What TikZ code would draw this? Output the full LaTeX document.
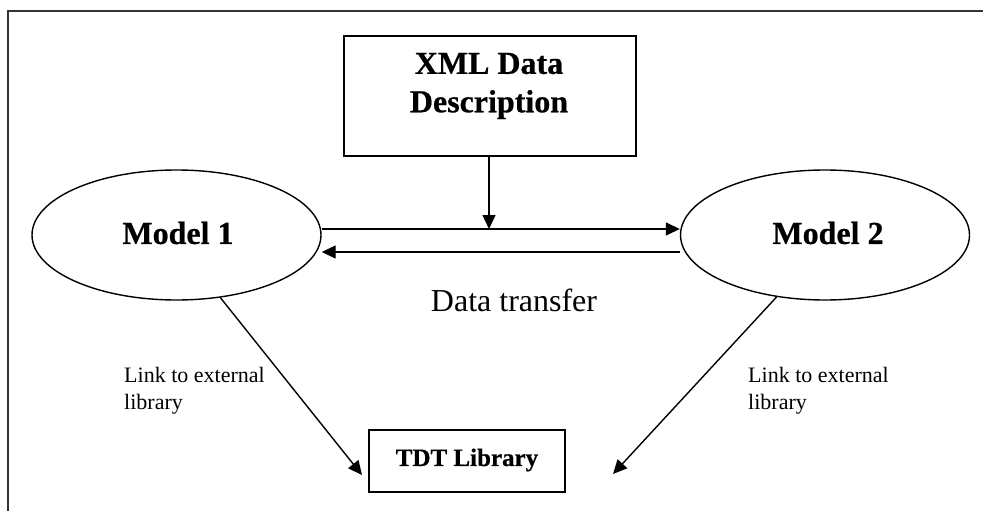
\documentclass[tikz,border=0pt]{standalone}
\usepackage{fontspec}
\setmainfont{Liberation Serif}[BoldFeatures={FakeBold=0.6}]
\usetikzlibrary{arrows.meta,shapes.geometric}
\begin{document}
\begin{tikzpicture}[x=1pt,y=-1pt,
  shape line/.style={draw=black,line width=1.4pt},
  ell/.style={shape line,ellipse,minimum width=289pt,minimum height=130pt,inner sep=0pt},
  boxshape/.style={shape line,rectangle,inner sep=0pt},
  bigbold/.style={font=\fontsize{32}{38.4}\selectfont\bfseries,align=center,inner sep=0pt},
  smalltxt/.style={font=\fontsize{22}{27}\selectfont,align=left,inner sep=0pt,anchor=west},
  arr/.style={line width=1.4pt,-{Triangle[length=14pt,width=13pt]}}
]
\useasboundingbox (0,0) rectangle (983,511);
% outer frame (cropped)
\draw[line width=2.4pt,black!80] (8,511) -- (8,11) -- (983,11);
% nodes
\node[boxshape,minimum width=292pt,minimum height=120pt] (xml) at (490,96) {};
\node[bigbold] (xmltxt) at (489,86) {XML Data\\Description};
\node[ell] (m1) at (176.5,235) {};
\node[bigbold] (m1txt) at (178,233) {Model 1};
\node[ell] (m2) at (825,235) {};
\node[bigbold] (m2txt) at (828,233) {Model 2};
\node[boxshape,minimum width=196pt,minimum height=62pt] (tdt) at (467,461) {};
\node[font=\fontsize{25}{30}\selectfont\bfseries,inner sep=0pt] (tdttxt) at (467,460) {TDT Library};
\node[font=\fontsize{32}{38}\selectfont,inner sep=0pt] (dt) at (514,300) {Data transfer};
\node[smalltxt] (l1) at (124,391) {Link to external\\library};
\node[smalltxt] (l2) at (748,391) {Link to external\\library};
% connector end points
\coordinate (j) at (489,229);
\coordinate (t1) at (362,475);
\coordinate (t2) at (613,474);
% connectors
\draw[arr] (xml.south -| j) -- (j);
\draw[arr] ([yshift=6pt]m1.east) -- ([yshift=6pt]m2.west);
\draw[arr] ([yshift=-17pt]m2.west) -- ([yshift=-17pt]m1.east);
\draw[arr] (m1.-55) -- (t1);
\draw[arr] (m2.-128) -- (t2);
\end{tikzpicture}
\end{document}
